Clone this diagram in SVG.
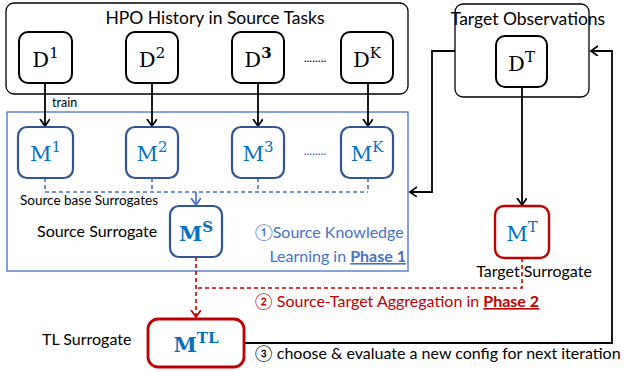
<svg xmlns="http://www.w3.org/2000/svg" width="624" height="372" viewBox="0 0 624 372">
<defs>
<style>
.lbl{font-family:Lato,"Liberation Sans",sans-serif;font-size:16px;fill:#000}
.dnode{fill:#fff;stroke:#000;stroke-width:2}
.mnode{fill:#fff;stroke:#2F5597;stroke-width:2.2}
.rnode{fill:#fff;stroke:#C00000;stroke-width:2.4}
.blk{fill:none;stroke:#000;stroke-width:1.8}
.bdash{fill:none;stroke:#4472C4;stroke-width:1.6;stroke-dasharray:4 3}
.rdash{fill:none;stroke:#C00000;stroke-width:1.6;stroke-dasharray:4 3}
.dtext{font-family:"DejaVu Serif","Liberation Serif",serif;font-size:21px;fill:#000}
.mtext{font-family:"DejaVu Serif","Liberation Serif",serif;font-size:21px;fill:#0070C0}
</style>
<marker id="ab" markerUnits="userSpaceOnUse" markerWidth="12" markerHeight="12" refX="7" refY="5" orient="auto"><path d="M0,0 L7,5 L0,10" fill="none" stroke="#000" stroke-width="1.8"/></marker>
<marker id="abl" markerUnits="userSpaceOnUse" markerWidth="12" markerHeight="12" refX="7" refY="5" orient="auto"><path d="M0,0 L7,5 L0,10" fill="none" stroke="#4472C4" stroke-width="1.8"/></marker>
<marker id="ar" markerUnits="userSpaceOnUse" markerWidth="12" markerHeight="12" refX="7" refY="5" orient="auto"><path d="M0,0 L7,5 L0,10" fill="none" stroke="#C00000" stroke-width="1.8"/></marker>
</defs>

<g id="source-history">
<rect x="6" y="3" width="402" height="91" rx="8" fill="#fff" stroke="#000" stroke-width="1.3"/>
<text class="lbl" x="215" y="24" text-anchor="middle" style="font-size:17.5px">HPO History in Source Tasks</text>
</g>
<g id="target-observations">
<rect x="455" y="4" width="134" height="93" rx="8" fill="#fff" stroke="#000" stroke-width="1.3"/>
<text class="lbl" x="528" y="25" text-anchor="middle" style="font-size:17.5px">Target Observations</text>
</g>
<g id="phase1">
<rect x="7" y="112" width="401" height="159" fill="none" stroke="#4472C4" stroke-width="1.3"/>
<text class="lbl" x="255" y="238" style="fill:#4472C4">①Source Knowledge</text>
<text class="lbl" x="406" y="262" text-anchor="end" style="fill:#4472C4">Learning in <tspan font-weight="bold" text-decoration="underline">Phase 1</tspan></text>
</g>

<g id="connectors">
<line class="blk" x1="45" y1="83" x2="45" y2="126" marker-end="url(#ab)"/>
<line class="blk" x1="152" y1="83" x2="152" y2="126" marker-end="url(#ab)"/>
<line class="blk" x1="258" y1="83" x2="258" y2="126" marker-end="url(#ab)"/>
<line class="blk" x1="368" y1="83" x2="368" y2="126" marker-end="url(#ab)"/>
<line class="blk" x1="522" y1="87" x2="522" y2="205" marker-end="url(#ab)"/>
<polyline class="blk" points="455,51 432,51 432,192 410,192" marker-end="url(#ab)"/>
<polyline class="blk" points="244,343 612,343 612,51 591,51" marker-end="url(#ab)"/>
<path class="bdash" d="M45,178 V192 M152,178 V192 M258,178 V192 M368,178 V192 M45,192 H368"/>
<line class="bdash" x1="196" y1="192" x2="196" y2="205" style="stroke-dasharray:none" marker-end="url(#abl)"/>
<polyline class="rdash" points="522,258 522,288 196,288"/>
<line class="rdash" x1="196" y1="257" x2="196" y2="317" marker-end="url(#ar)"/>
<text class="lbl" x="52" y="107" style="font-size:12.5px">train</text>
<text class="lbl" x="20" y="205" style="font-size:13.5px">Source base Surrogates</text>
<text class="lbl" x="255" y="307" style="fill:#C00000">② Source-Target Aggregation in <tspan font-weight="bold" text-decoration="underline">Phase 2</tspan></text>
<text class="lbl" x="255" y="359">③ choose &amp; evaluate a new config for next iteration</text>
</g>

<g id="D1"><rect class="dnode" x="19" y="32" width="53" height="51" rx="9"/><text class="dtext" x="45.5" y="67" text-anchor="middle">D<tspan font-size="15" dy="-9">1</tspan></text></g>
<g id="D2"><rect class="dnode" x="126" y="32" width="52" height="51" rx="9"/><text class="dtext" x="152" y="67" text-anchor="middle">D<tspan font-size="15" dy="-9">2</tspan></text></g>
<g id="D3"><rect class="dnode" x="232" y="32" width="52" height="51" rx="9"/><text class="dtext" x="258" y="67" text-anchor="middle">D<tspan font-size="15" dy="-9" font-weight="bold">3</tspan></text></g>
<text class="lbl" x="315" y="62" text-anchor="middle" style="font-size:12px">........</text>
<g id="DK"><rect class="dnode" x="341" y="32" width="52" height="51" rx="9"/><text class="dtext" x="367" y="67" text-anchor="middle">D<tspan font-size="15" dy="-9">K</tspan></text></g>

<g id="M1"><rect class="mnode" x="18" y="127" width="55" height="51" rx="9"/><text class="mtext" x="45.5" y="161" text-anchor="middle">M<tspan font-size="15" dy="-9">1</tspan></text></g>
<g id="M2"><rect class="mnode" x="126" y="127" width="52" height="51" rx="9"/><text class="mtext" x="152" y="161" text-anchor="middle">M<tspan font-size="15" dy="-9">2</tspan></text></g>
<g id="M3"><rect class="mnode" x="232" y="127" width="52" height="51" rx="9"/><text class="mtext" x="258" y="161" text-anchor="middle">M<tspan font-size="15" dy="-9">3</tspan></text></g>
<text class="lbl" x="315" y="155" text-anchor="middle" style="font-size:12px;fill:#2F5597">........</text>
<g id="MK"><rect class="mnode" x="341" y="127" width="52" height="51" rx="9"/><text class="mtext" x="367" y="161" text-anchor="middle">M<tspan font-size="15" dy="-9">K</tspan></text></g>

<g id="MS"><rect class="mnode" x="170" y="206" width="52" height="51" rx="9"/><text class="mtext" x="196" y="241" text-anchor="middle" font-weight="bold">M<tspan font-size="15" dy="-9">S</tspan></text>
<text class="lbl" x="37" y="237">Source Surrogate</text></g>

<g id="DT"><rect class="dnode" x="496" y="36" width="51" height="51" rx="9"/><text class="dtext" x="521.5" y="71" text-anchor="middle">D<tspan font-size="15" dy="-9">T</tspan></text></g>

<g id="MT"><rect class="rnode" x="495" y="206" width="54" height="52" rx="9"/><text class="mtext" x="522" y="241" text-anchor="middle">M<tspan font-size="15" dy="-9">T</tspan></text>
<text class="lbl" x="534" y="277" text-anchor="middle">Target Surrogate</text></g>

<g id="MTL"><rect class="rnode" x="148" y="319" width="96" height="48" rx="10" style="stroke-width:2.8"/><text class="mtext" x="196" y="352" text-anchor="middle" font-weight="bold" font-size="22">M<tspan font-size="15" dy="-9">TL</tspan></text>
<text class="lbl" x="42" y="345">TL Surrogate</text></g>
</svg>
